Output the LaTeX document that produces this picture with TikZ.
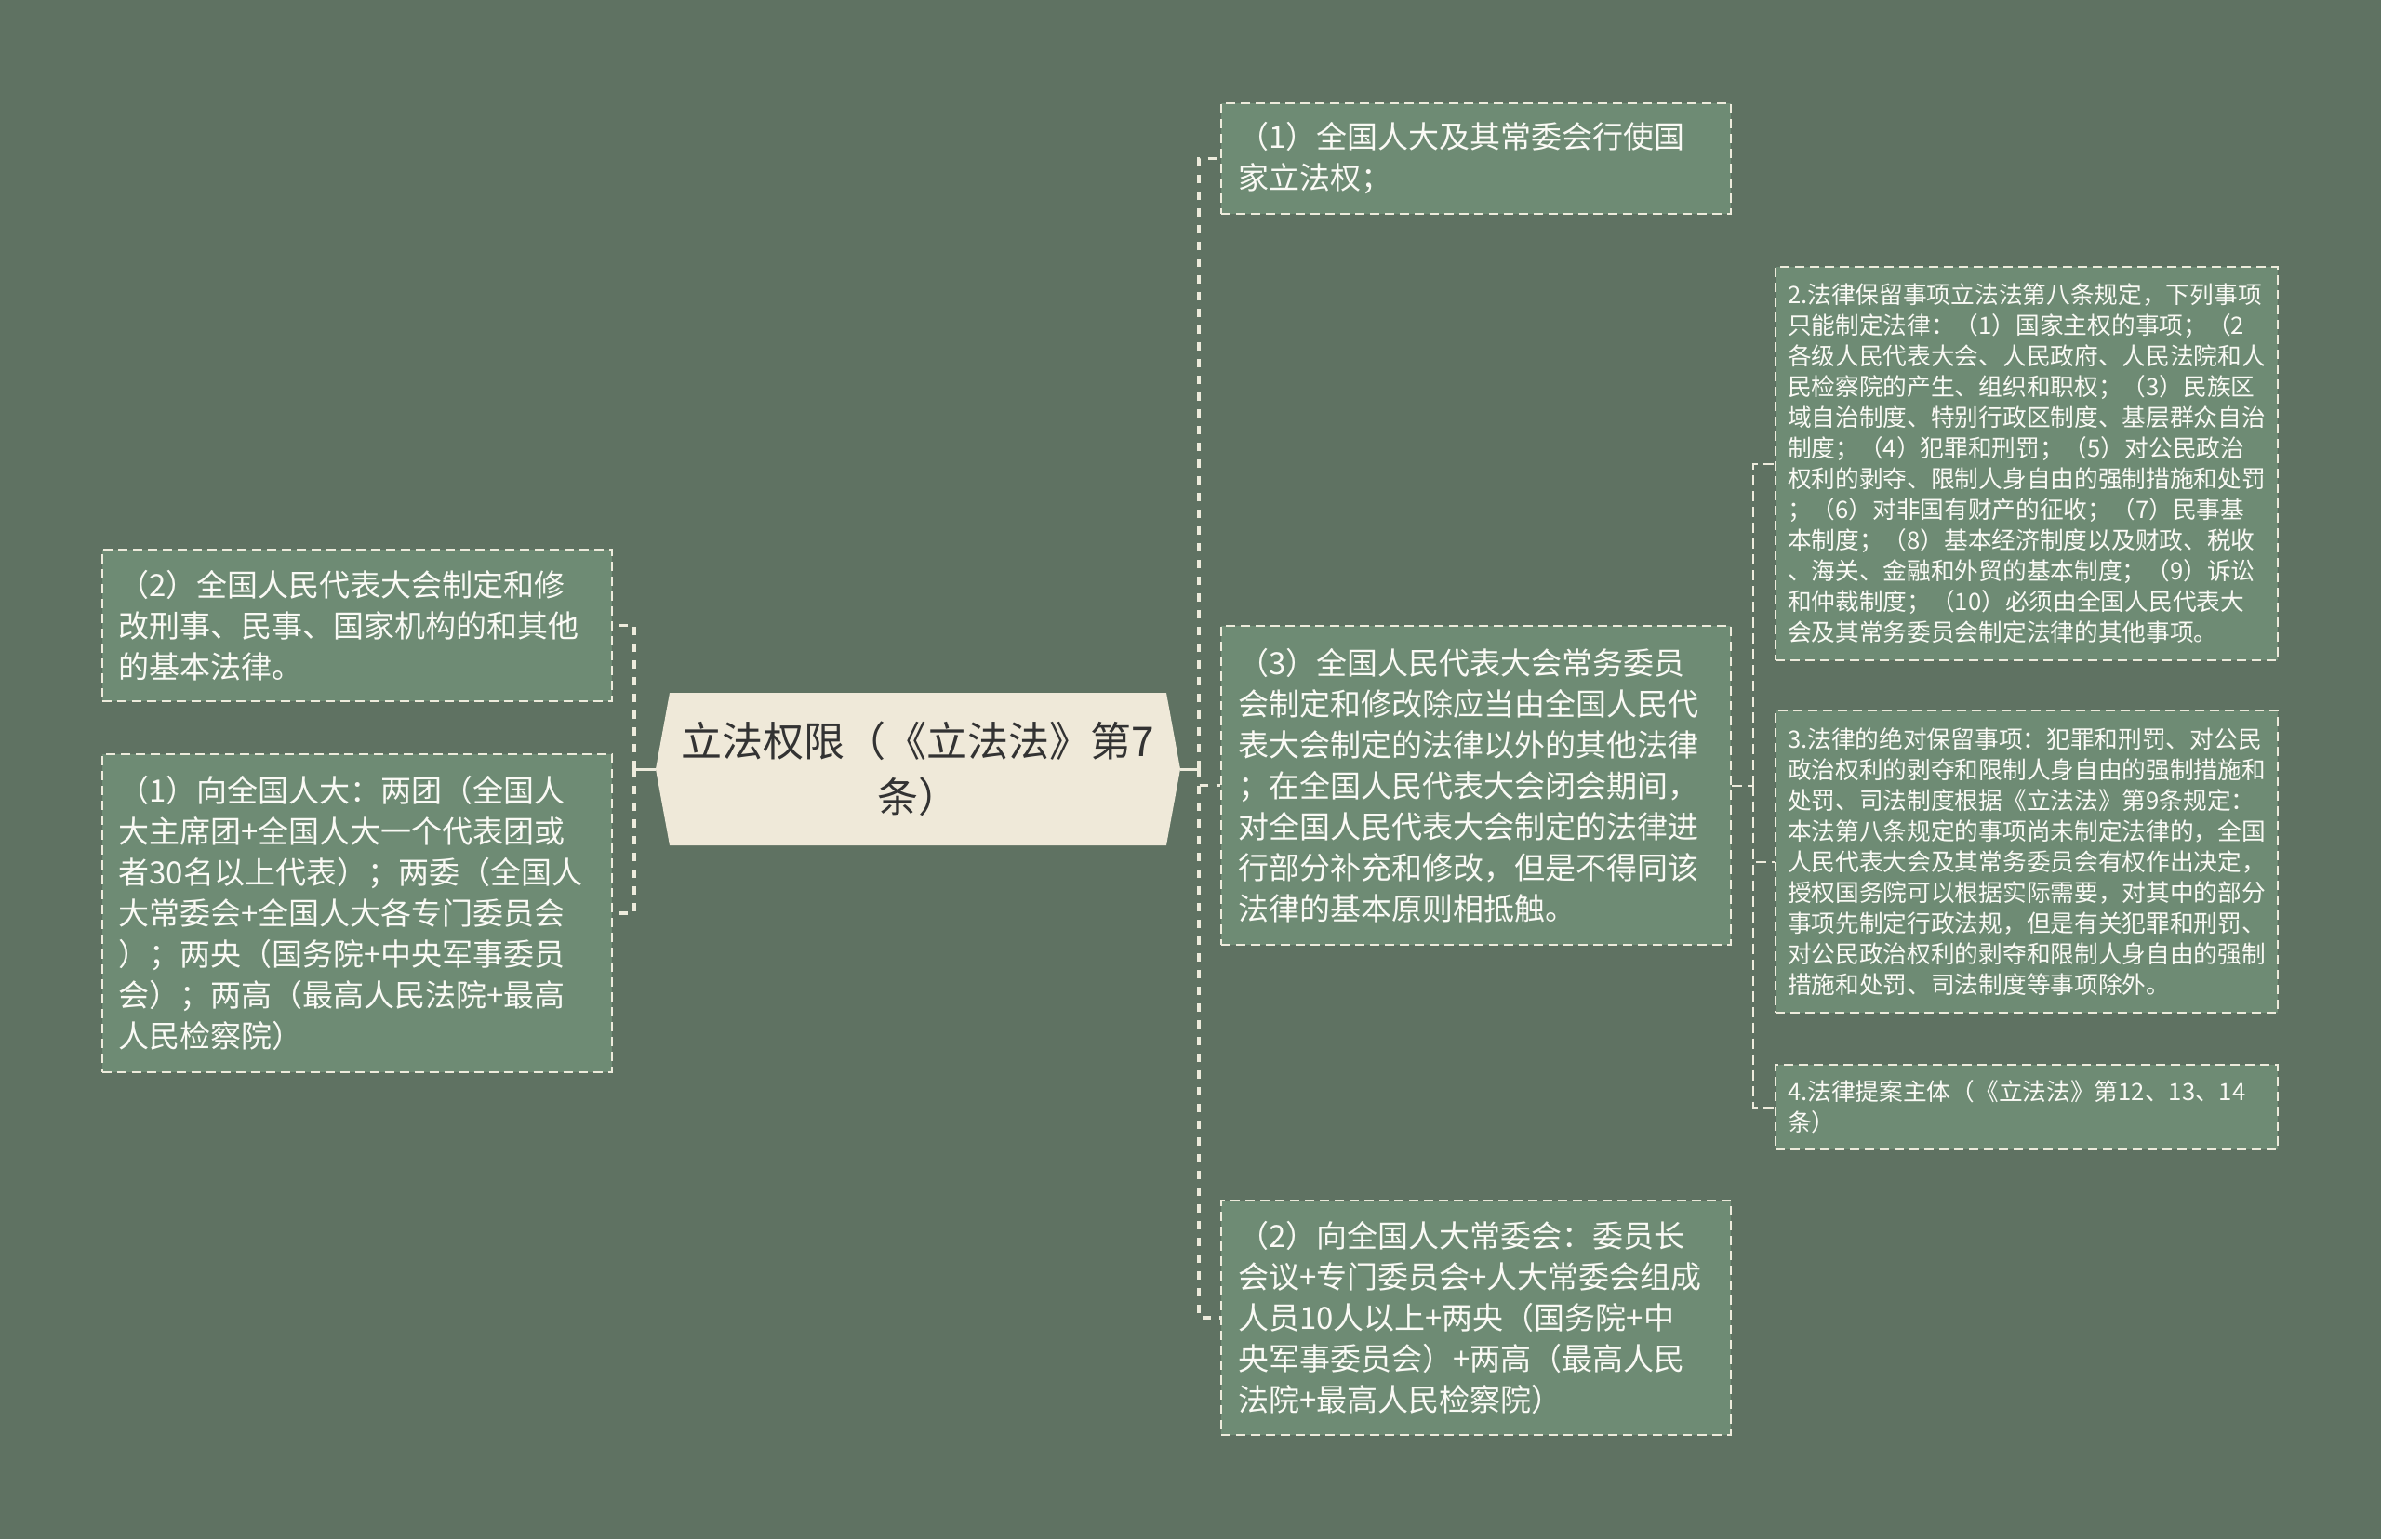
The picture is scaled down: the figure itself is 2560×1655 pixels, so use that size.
\documentclass[tikz,border=0pt]{standalone}
\usepackage{fontspec}
\newfontfamily\cjk{Noto Sans CJK SC}
\definecolor{bgc}{HTML}{5F7262}
\definecolor{boxc}{HTML}{6E8B74}
\definecolor{rootc}{HTML}{EFE9D9}
\definecolor{linec}{HTML}{EDEBDC}
\definecolor{txtc}{HTML}{FAFAF5}
\definecolor{roottxt}{HTML}{333333}
\begin{document}
\begin{tikzpicture}[x=1pt,y=-1pt,
 leaf/.style={draw=linec, line width=2pt, dash pattern=on 10pt off 6pt, fill=boxc, text=txtc,
   align=left, inner xsep=18pt, inner ysep=0pt, text width=512pt,
   font=\cjk\fontsize{33}{44}\selectfont},
 smallleaf/.style={leaf, inner xsep=13pt, text width=514pt, font=\cjk\fontsize{25.7}{33}\selectfont},
 rootnode/.style={fill=bgc, minimum width=564pt, minimum height=164pt, inner sep=0pt, align=center,
   text=roottxt, font=\cjk\fontsize{44}{60}\selectfont,
   path picture={\fill[rootc] (path picture bounding box.west)
     -- ([xshift=15pt]path picture bounding box.north west)
     -- ([xshift=-15pt]path picture bounding box.north east)
     -- (path picture bounding box.east)
     -- ([xshift=-15pt]path picture bounding box.south east)
     -- ([xshift=15pt]path picture bounding box.south west) -- cycle;}},
 solidlink/.style={draw=linec, line width=3pt},
 lvlone/.style={draw=linec, line width=3.5pt, dash pattern=on 9pt off 9pt},
 lvltwo/.style={draw=linec, line width=2pt, dash pattern=on 11pt off 6pt}
]
\useasboundingbox (0,0) rectangle (2560,1655);
\fill[bgc] (0,0) rectangle (2560,1655);

% root
\node[rootnode] (root) at (987,827) {立法权限（《立法法》第7\\条）};

% left
\node[leaf, minimum height=163pt] (L2) at (383.5,672.5) {（2）全国人民代表大会制定和修\\改刑事、民事、国家机构的和其他\\的基本法律。};
\node[leaf, minimum height=342pt] (L1) at (383.5,982) {（1）向全国人大：两团（全国人\\大主席团+全国人大一个代表团或\\者30名以上代表）；两委（全国人\\大常委会+全国人大各专门委员会\\）；两央（国务院+中央军事委员\\会）；两高（最高人民法院+最高\\人民检察院）};

% right level 1
\node[leaf, minimum height=119pt] (R1) at (1587,170.5) {（1）全国人大及其常委会行使国\\家立法权；};
\node[leaf, minimum height=343pt] (R3) at (1587,844.5) {（3）全国人民代表大会常务委员\\会制定和修改除应当由全国人民代\\表大会制定的法律以外的其他法律\\；在全国人民代表大会闭会期间，\\对全国人民代表大会制定的法律进\\行部分补充和修改，但是不得同该\\法律的基本原则相抵触。};
\node[leaf, minimum height=252pt] (R2) at (1587,1417) {（2）向全国人大常委会：委员长\\会议+专门委员会+人大常委会组成\\人员10人以上+两央（国务院+中\\央军事委员会）+两高（最高人民\\法院+最高人民检察院）};

% right level 2
\node[smallleaf, minimum height=423pt] (FR2) at (2179,498.5) {2.法律保留事项立法法第八条规定，下列事项\\只能制定法律：（1）国家主权的事项；（2\\各级人民代表大会、人民政府、人民法院和人\\民检察院的产生、组织和职权；（3）民族区\\域自治制度、特别行政区制度、基层群众自治\\制度；（4）犯罪和刑罚；（5）对公民政治\\权利的剥夺、限制人身自由的强制措施和处罚\\；（6）对非国有财产的征收；（7）民事基\\本制度；（8）基本经济制度以及财政、税收\\、海关、金融和外贸的基本制度；（9）诉讼\\和仲裁制度；（10）必须由全国人民代表大\\会及其常务委员会制定法律的其他事项。};
\node[smallleaf, minimum height=325pt] (FR3) at (2179,926.5) {3.法律的绝对保留事项：犯罪和刑罚、对公民\\政治权利的剥夺和限制人身自由的强制措施和\\处罚、司法制度根据《立法法》第9条规定：\\本法第八条规定的事项尚未制定法律的，全国\\人民代表大会及其常务委员会有权作出决定，\\授权国务院可以根据实际需要，对其中的部分\\事项先制定行政法规，但是有关犯罪和刑罚、\\对公民政治权利的剥夺和限制人身自由的强制\\措施和处罚、司法制度等事项除外。};
\node[smallleaf, minimum height=91pt] (FR4) at (2179,1190.5) {4.法律提案主体（《立法法》第12、13、14\\条）};

% connectors
\coordinate (lt) at (682,827);
\coordinate (rt) at (1289,827);
\coordinate (rtt) at (1885,844.5);
\draw[solidlink] (root.west) -- (lt);
\draw[lvlone] (lt) |- (L2.east);
\draw[lvlone] (lt) |- (L1.east);
\draw[solidlink] (root.east) -- (rt);
\draw[lvlone] (rt) |- (R1.west);
\draw[lvlone] (rt) |- (R3.west);
\draw[lvlone] (rt) |- (R2.west);
\draw[lvltwo] (R3.east) -- (rtt);
\draw[lvltwo] (rtt) |- (FR2.west);
\draw[lvltwo] (rtt) |- (FR3.west);
\draw[lvltwo] (rtt) |- (FR4.west);
\end{tikzpicture}
\end{document}
